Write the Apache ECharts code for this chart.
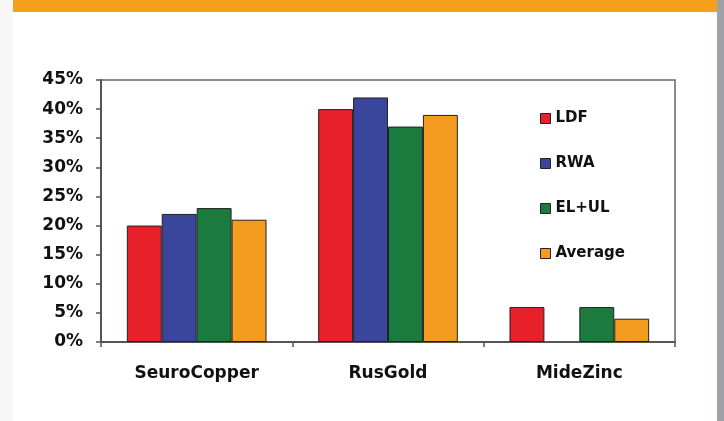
<!DOCTYPE html>
<html>
<head>
<meta charset="utf-8">
<script src="https://cdn.jsdelivr.net/npm/echarts@6/dist/echarts.min.js"></script>
<style>
  html, body { margin: 0; padding: 0; background: #fff; }
  #main { width: 724px; height: 421px; }
</style>
</head>
<body>
<div id="main"></div>
<script>
var companies = ['SeuroCopper', 'RusGold', 'MideZinc'];
var seriesNames = ['LDF', 'RWA', 'EL+UL', 'Average'];
var ldf = [20, 40, 6];
var rwa = [22, 42, null];
var elul = [23, 37, 6];
var average = [21, 39, 4];
var colors = ['#e8202a', '#3a469c', '#1b7a3e', '#f39c1f'];

var font = '"DejaVu Sans", Arial, sans-serif';

function makeBar(name, values, color) {
    return {
        name: name,
        type: 'bar',
        data: values,
        barGap: '0%',
        barCategoryGap: '27%',
        itemStyle: { color: color, borderColor: '#222', borderWidth: 1 }
    };
}

var myChart = echarts.init(document.getElementById('main'));
myChart.setOption({
    animation: false,
    backgroundColor: '#ffffff',
    graphic: [
        { type: 'rect', left: 0, top: 0, shape: { width: 13, height: 421 }, style: { fill: '#f7f7f7' }, z: -1 },
        { type: 'rect', left: 13, top: 0, shape: { width: 704, height: 12 }, style: { fill: '#f5a01d' } },
        { type: 'rect', left: 717, top: 0, shape: { width: 7, height: 421 }, style: { fill: '#9fa2a6' } }
    ],
    grid: {
        left: 101, right: 49, top: 80, bottom: 79,
        show: true,
        borderColor: '#666',
        borderWidth: 1.5
    },
    legend: {
        orient: 'vertical',
        left: 535,
        top: 106,
        itemWidth: 10,
        itemHeight: 10,
        itemGap: 30,
        icon: 'rect',
        data: seriesNames,
        itemStyle: { borderColor: '#222', borderWidth: 1 },
        textStyle: { fontFamily: font, fontWeight: 'bold', fontSize: 15, color: '#111' }
    },
    xAxis: {
        type: 'category',
        data: companies,
        axisLine: { lineStyle: { color: '#555', width: 2 } },
        axisTick: { show: true, length: 5, lineStyle: { color: '#555', width: 1.5 } },
        axisLabel: { margin: 23, fontFamily: font, fontWeight: 'bold', fontSize: 17, color: '#111' }
    },
    yAxis: {
        type: 'value',
        min: 0,
        max: 45,
        interval: 5,
        splitLine: { show: false },
        axisLine: { show: true, lineStyle: { color: '#555', width: 2 } },
        axisTick: { show: true, length: 5, lineStyle: { color: '#555', width: 1.5 } },
        axisLabel: { formatter: '{value}%', margin: 18, fontFamily: font, fontWeight: 'bold', fontSize: 17, color: '#111' }
    },
    series: [
        makeBar(seriesNames[0], ldf, colors[0]),
        makeBar(seriesNames[1], rwa, colors[1]),
        makeBar(seriesNames[2], elul, colors[2]),
        makeBar(seriesNames[3], average, colors[3])
    ]
});
</script>
</body>
</html>
